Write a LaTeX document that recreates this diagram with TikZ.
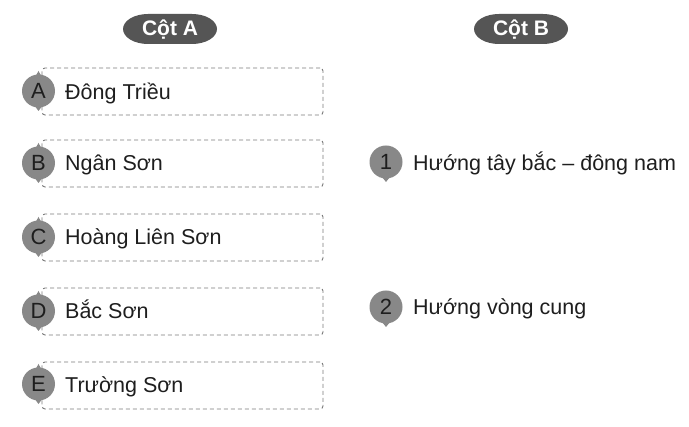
\documentclass[tikz,border=0pt]{standalone}
\usepackage{fontspec}
\setmainfont{Liberation Sans}
\definecolor{pillgray}{HTML}{555555}
\definecolor{badgegray}{HTML}{888888}
\definecolor{boxline}{HTML}{7A7A7A}
\definecolor{txt}{HTML}{1E1E1E}
\begin{document}
\begin{tikzpicture}[x=1pt,y=-1pt,
  pilltext/.style={inner sep=0pt,text=white,font=\bfseries\fontsize{21}{24}\selectfont},
  pillfill/.style={fill=pillgray},
  rowbox/.style={draw=boxline,dashed,dash pattern=on 4pt off 3pt,line width=0.9pt,rounded corners=3pt,minimum width=281pt,minimum height=47pt,inner sep=0pt},
  badge/.style={circle,fill=badgegray,minimum size=33pt,inner sep=0pt,text=txt,font=\fontsize{22}{24}\selectfont},
  tip/.style={fill=badgegray},
  label/.style={anchor=base west,inner sep=0pt,text=txt,font=\fontsize{21.5}{24}\selectfont}]
\useasboundingbox (0,0) rectangle (689,427);
\fill[white] (0,0) rectangle (689,427);

% header pills
\foreach \cx in {170,521}{
  \fill[pillfill] (\cx-22,14) -- (\cx+22,14)
    arc[start angle=90,end angle=-90,x radius=25pt,y radius=15pt]
    -- (\cx-22,44)
    arc[start angle=270,end angle=90,x radius=25pt,y radius=15pt] -- cycle;
}
\node[pilltext] (colA) at (170,29.5) {Cột A};
\node[pilltext] (colB) at (521,29.5) {Cột B};

% boxes
\node[rowbox] (boxA) at (182.5,91.5) {};
\node[rowbox] (boxB) at (182.5,163.5) {};
\node[rowbox] (boxC) at (182.5,237.5) {};
\node[rowbox] (boxD) at (182.5,311.5) {};
\node[rowbox] (boxE) at (182.5,385.5) {};

% badges
\foreach \n/\l/\yy in {bA/A/91, bB/B/163, bC/C/237, bD/D/311, bE/E/384}{
  \fill[tip] (31,\yy+10) -- (38.5,\yy+20) -- (46,\yy+10) -- cycle;
  \fill[tip] (34,\yy-12) -- (38.5,\yy-20) -- (43,\yy-12) -- cycle;
  \node[badge] (\n) at (38.5,\yy) {\l};
}
\foreach \n/\l/\yy in {b1/1/162, b2/2/307}{
  \fill[tip] (378,\yy+10) -- (386,\yy+20) -- (394,\yy+10) -- cycle;
  \node[badge] (\n) at (386,\yy) {\l};
}

% labels
\node[label] (tA) at (65,100) {Đông Triều};
\node[label] (tB) at (65,171) {Ngân Sơn};
\node[label] (tC) at (65,245) {Hoàng Liên Sơn};
\node[label] (tD) at (65,319) {Bắc Sơn};
\node[label] (tE) at (65,393) {Trường Sơn};
\node[label] (t1) at (413,171) {Hướng tây bắc – đông nam};
\node[label] (t2) at (413,315) {Hướng vòng cung};
\end{tikzpicture}
\end{document}
